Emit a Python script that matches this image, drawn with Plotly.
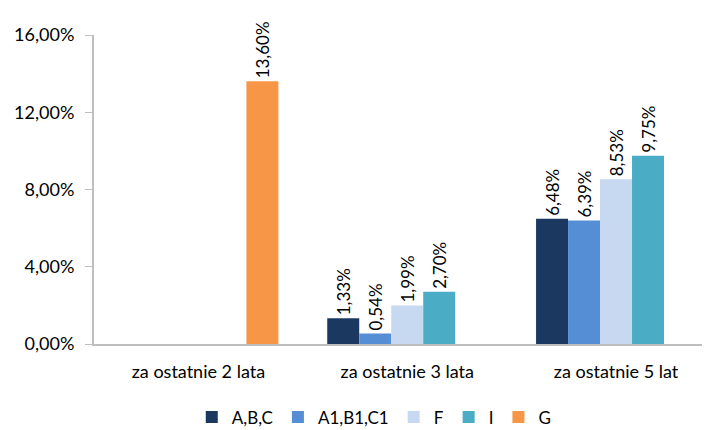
import plotly.graph_objects as go

categories = ["za ostatnie 2 lata", "za ostatnie 3 lata", "za ostatnie 5 lat"]
series_names = ["A,B,C", "A1,B1,C1", "F", "I", "G"]
abc = [None, 1.33, 6.48]
a1b1c1 = [None, 0.54, 6.39]
f_vals = [None, 1.99, 8.53]
i_vals = [None, 2.70, 9.75]
g_vals = [13.60, None, None]
y_ticks = [0, 4, 8, 12, 16]
y_tick_labels = [f"{v:.2f}%".replace(".", ",") for v in y_ticks]

colors = ["#1B3860", "#558ED5", "#C6D9F1", "#4BACC6", "#F79646"]
font_family = "Lato, Carlito, Calibri, sans-serif"

fig = go.Figure()
for name, vals, col in zip(series_names, [abc, a1b1c1, f_vals, i_vals, g_vals], colors):
    fig.add_trace(go.Bar(
        x=categories, y=vals, name=name, marker=dict(color=col, line=dict(width=0)),
        texttemplate="%{y:.2f}%", textposition="outside", textangle=-90,
        textfont=dict(size=17, color="#000000", family=font_family),
        constraintext="none", cliponaxis=False, offsetgroup=name,
    ))

# the page body adds an 8px margin, so the figure is kept 8px smaller
fig.update_layout(
    width=702, height=422,
    margin=dict(l=86, r=0, t=27, b=86, autoexpand=False),
    paper_bgcolor="white", plot_bgcolor="white",
    barmode="group", bargap=0.234, bargroupgap=0,
    separators=", ",
    font=dict(family=font_family, size=17, color="#000000"),
    showlegend=True,
    legend=dict(orientation="h", x=0.455, xanchor="center", y=-0.238, yanchor="middle",
                font=dict(size=17), itemwidth=30, traceorder="normal"),
    xaxis=dict(range=[-0.5, 2.45], showline=True, linecolor="#BFBFBF", linewidth=2,
               ticks="", showgrid=False, tickfont=dict(size=18), automargin=False,
               ticklabelstandoff=10),
    yaxis=dict(range=[0, 16], tickvals=y_ticks, ticktext=y_tick_labels,
               showline=True, linecolor="#BFBFBF", linewidth=2, ticks="outside",
               ticklen=7, tickcolor="#BFBFBF", showgrid=False, zeroline=False,
               tickfont=dict(size=18), automargin=False, ticklabelstandoff=7),
)

fig.write_html("out.html")
